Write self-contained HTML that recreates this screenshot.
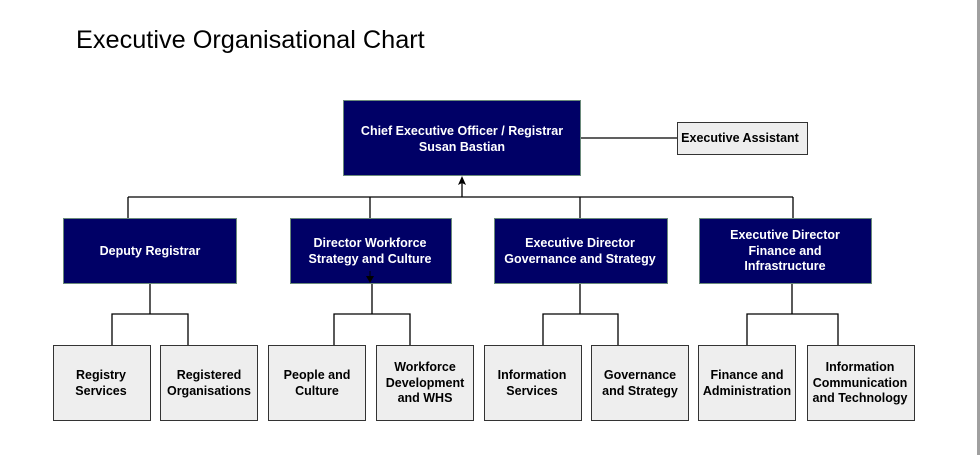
<!DOCTYPE html>
<html><head><style>
body{margin:0;background:#fff;}
svg text{font-family:"Liberation Sans",Arial,sans-serif;}
</style></head><body>
<svg width="980" height="455" xmlns="http://www.w3.org/2000/svg">
<rect x="977" y="0" width="3" height="455" fill="#a0a0a0"/>
<text x="76" y="48" font-size="25.3" fill="#000">Executive Organisational Chart</text>
<g stroke="#000" stroke-width="1.3" fill="none">
<line x1="580" y1="138" x2="677" y2="138"/>
<line x1="128" y1="197" x2="793" y2="197"/>
<line x1="462" y1="197" x2="462" y2="178"/>
<line x1="128" y1="197" x2="128" y2="218"/>
<line x1="370" y1="197" x2="370" y2="218"/>
<line x1="580" y1="197" x2="580" y2="218"/>
<line x1="793" y1="197" x2="793" y2="218"/>
<path d="M150 283V314M112 345V314H188V345"/>
<path d="M372 283V314M334 345V314H410V345"/>
<path d="M580 283V314M543 345V314H618V345"/>
<path d="M792 283V314M747 345V314H838V345"/>
</g>
<path d="M462 176 L458 185 L462 183 L466 185Z" fill="#000"/>
<g fill="#000066" stroke="#6a8a7a" stroke-width="1">
<rect x="343.5" y="100.5" width="237" height="75"/>
<rect x="63.5" y="218.5" width="173" height="65"/>
<rect x="290.5" y="218.5" width="161" height="65"/>
<rect x="494.5" y="218.5" width="173" height="65"/>
<rect x="699.5" y="218.5" width="172" height="65"/>
</g>
<line x1="370" y1="271" x2="370" y2="280" stroke="#000"/>
<path d="M370 283 L366 276 L374 276Z" fill="#000"/>
<g fill="#eeeeee" stroke="#333" stroke-width="1">
<rect x="677.5" y="122.5" width="130" height="32"/>
<rect x="53.5" y="345.5" width="97" height="75"/>
<rect x="160.5" y="345.5" width="97" height="75"/>
<rect x="268.5" y="345.5" width="97" height="75"/>
<rect x="376.5" y="345.5" width="97" height="75"/>
<rect x="484.5" y="345.5" width="97" height="75"/>
<rect x="591.5" y="345.5" width="97" height="75"/>
<rect x="698.5" y="345.5" width="97" height="75"/>
<rect x="807.5" y="345.5" width="107" height="75"/>
</g>
<g fill="#fff" font-size="12.5" font-weight="bold" text-anchor="middle">
<text x="462" y="135">Chief Executive Officer / Registrar</text>
<text x="462" y="151">Susan Bastian</text>
<text x="150" y="255">Deputy Registrar</text>
<text x="370" y="247">Director Workforce</text>
<text x="370" y="263">Strategy and Culture</text>
<text x="580" y="247">Executive Director</text>
<text x="580" y="263">Governance and Strategy</text>
<text x="785" y="239">Executive Director</text>
<text x="785" y="255">Finance and</text>
<text x="785" y="270">Infrastructure</text>
</g>
<g fill="#000" font-size="12.5" font-weight="bold" text-anchor="middle">
<text x="740" y="142">Executive Assistant</text>
<text x="101" y="379">Registry</text><text x="101" y="395">Services</text>
<text x="209" y="379">Registered</text><text x="209" y="395">Organisations</text>
<text x="317" y="379">People and</text><text x="317" y="395">Culture</text>
<text x="425" y="371">Workforce</text><text x="425" y="387">Development</text><text x="425" y="402">and WHS</text>
<text x="532" y="379">Information</text><text x="532" y="395">Services</text>
<text x="640" y="379">Governance</text><text x="640" y="395">and Strategy</text>
<text x="747" y="379">Finance and</text><text x="747" y="395">Administration</text>
<text x="860" y="371">Information</text><text x="860" y="387">Communication</text><text x="860" y="402">and Technology</text>
</g>
</svg>
</body></html>
